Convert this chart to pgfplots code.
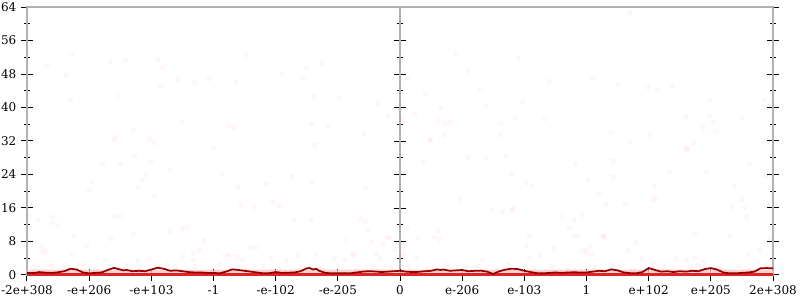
\documentclass[border=0pt]{standalone}
\usepackage{pgfplots}
\pgfplotsset{compat=1.18}
\usepackage{fontspec}
\setmainfont{DejaVu Serif}
\definecolor{axgray}{RGB}{178,178,178}
\definecolor{darkred}{RGB}{150,0,0}
\definecolor{brightred}{RGB}{222,36,36}
\definecolor{bandpink}{RGB}{249,200,200}
\begin{document}
\begin{tikzpicture}
\pgfplotsset{
  common/.style={
    scale only axis, width=559.5pt, height=201pt, at={(0,0)}, anchor=south west,
    xmin=-6, xmax=6, ymin=0, ymax=64,
    ytick={0,8,...,64}, minor y tick num=1,
    tick align=center, major tick length=9pt, minor tick length=4.5pt,
    tick style={black, line width=0.75pt},
    tick label style={font=\fontsize{9}{10}\selectfont},
  }
}
% centre axis at x = 0
\begin{axis}[common,
  axis x line=none, axis y line=center,
  yticklabels={}, xtick=\empty,
  axis line style={draw=axgray, line width=1.5pt, -},
  every inner y axis line/.append style={-},
]
\end{axis}
% main axis
\begin{axis}[common,
  axis line style={draw=axgray, line width=1.5pt},
  xtick={-6,...,6},
  xticklabels={-2e+308,-e+206,-e+103,-1,-e-102,-e-205,0,e-206,e-103,1,e+102,e+205,2e+308},
  yticklabels={0,8,16,24,32,40,48,56,64},
  xtick pos=left, ytick pos=both, yticklabel pos=left,
  clip=false,
]
\coordinate (bl) at (rel axis cs:0,0);
\coordinate (tr) at (rel axis cs:1,1);
% scatter samples
\addplot[only marks, mark=*, mark size=1.6pt,
  mark options={draw=red, fill=red, draw opacity=0.05, fill opacity=0.025}]
coordinates {
(-5.68,50) (-5.28,52.6) (-5.37,47.7) (-5.3,41.9) (-4.66,51) (-4.42,51.2) (-4.53,42.8)
(-3.89,51.5) (-3.82,49.6) (-3.85,45.1) (-3.57,46.7) (-3.3,45.9) (-3.51,36.5) (-4.58,32.9)
(-4.6,32.3) (-4.29,34.5) (-4.03,32.5) (-3.95,31.5)
(-2.47,52.6) (-3.07,46.9) (-2.64,46) (-1.9,48) (-1.5,49.5) (-1.56,46.9) (-1.39,42.5)
(-2.75,35.6) (-2.67,35.2) (-1.42,36) (-3.0,30.4) (-1.37,31.1)
(0.9,53) (1.1,48.8) (1.29,44.4) (1.39,40.5) (0.41,43.2) (0.65,40) (0.62,37.1) (0.73,36.3)
(0.81,36.4) (0.72,33.4) (0.48,32.3) (0.24,38.3) (0.04,37.3) (-0.19,38.1) (-0.35,40.9)
(-0.58,33.8) (-0.98,42.3) (-1.26,50.6) (0.12,46.9) (-1.16,35.4)
(1.9,51.7) (2.4,46.3) (3.1,47) (3.5,45.4) (1.98,41.2) (1.85,37.6) (2.33,37.3) (1.62,36.2)
(1.62,33.5) (3.4,33.9)
(3.7,62.5) (3.98,44.9) (4.13,44.3) (4.38,45.2) (4.98,41.6) (5.87,41.8) (5.91,47.4)
(5.96,40.9) (4.6,37.7) (4.97,37.9) (5.05,36.5) (5.5,37.4) (4.87,35.3) (5.09,34.4)
(4.02,33.5) (3.7,31.7) (4.72,31.5) (4.61,30.1)
(-4.78,26.4) (-4.5,26.5) (-4.27,28.4) (-4.01,27.1) (-4.95,22.2) (-5.0,20.3) (-4.21,21)
(-4.15,22.7) (-4.09,23.8) (-3.94,18.8) (-3.7,25.1) (-2.86,24.1) (-2.6,21) (-2.56,16.7)
(-2.34,16.2) (-2.15,21.8) (-2.04,17.5) (-1.95,16.5) (-1.73,23.5) (-1.42,22.1) (-1.71,13.2)
(-1.43,13.2) (-0.56,20.7) (-0.64,13.3) (-0.56,12.8) (-0.51,10.6) (-0.27,7.4) (-0.2,8.9)
(-0.16,9) (-0.08,28.9) (-0.88,8.4) (-0.75,4.7) (-0.32,3.9) (0,4.2) (-5.96,14) (-5.82,13)
(-5.58,13.8) (-5.59,12.4) (-5.5,11.7) (-5.24,9.4) (-5.04,7) (-5.76,6.6) (-5.69,5.7)
(-5.75,5.4) (-5.27,4.7) (-4.58,14) (-4.5,14.1) (-4.65,8.7) (-4.74,3.5) (-4.29,9.8)
(-4.21,3.3) (-4.03,3.9) (-3.75,2.7) (-3.7,10.3) (-3.51,10.9) (-3.43,11.4) (-3.16,8.2)
(-3.22,6) (-3.32,5.2) (-3.5,4.4) (-3.32,3.5) (-2.81,4.7) (-2.75,4.7) (-2.62,4.4)
(-2.53,3.8) (-2.41,6.5) (-2.31,6.6) (-2.07,3.9) (-1.83,3.3) (-1.64,4.6) (-1.34,4.7)
(-1.06,3.9) (-0.88,3.6) (-0.76,4.9) (-0.46,7.8) (-0.38,5) (-0.08,6.1) (0.05,6.5) (0.11,11.3)
(0.49,32.1) (4.61,30) (0.38,26.8) (1.09,28.1) (1.39,27.9) (1.7,28.4) (1.8,24.2) (2.83,26.7)
(3.43,27.3) (3.43,23.5) (4.33,24.5) (4.94,24.7) (5.62,26.4) (5.88,23.6) (2.03,22) (2.13,21.2)
(0.97,18.1) (1.48,15.6) (1.65,15.2) (1.8,15.4) (1.83,15.9) (3.02,22.6) (3.2,19.4) (3.31,16.8)
(3.62,16.8) (4.09,21.2) (4.1,18.4) (4.07,17.9) (5.38,21.1) (5.5,18) (5.33,16.2) (5.55,16.2)
(5.58,14) (2.6,14) (2.8,13) (2.92,14.3) (2.72,11.3) (2.8,9.4) (2.86,9.4) (3.26,9.2) (3.28,9)
(0.29,8.8) (0.56,8.9) (0.62,10.4) (0.64,8.5) (2.08,9.2) (2.03,7) (4.74,9.8) (5.31,9.2)
(5.95,8.9) (3.8,7.7) (3.67,5.8) (2.48,6.3) (2.92,5.8) (2.99,6) (3.06,6.8) (3.0,5.1) (3.08,4.7)
(2.25,4.7) (2.08,3.9) (1.33,3.5) (0.26,3.9) (0.06,4.9) (5.61,4.8) (5.79,5.8) (4.44,3.9)
(4.61,3.5) (4.74,4.1) (3.89,3.9) (4.07,2.7) (4.88,3.1) (5.76,3.1) (3.43,2.3)
(-5.9,1.8) (-5.6,2.2) (-5.4,1.5) (-5.1,2.6) (-4.9,1.2) (-4.4,2.1) (-4.2,1.6) (-3.9,2.4)
(-3.6,1.4) (-3.3,2.0) (-3.0,1.1) (-2.9,2.5) (-2.5,1.7) (-2.2,2.2) (-1.95,1.3) (-1.6,2.0)
(-1.25,1.5) (-1.0,2.3) (-0.7,1.2) (-0.45,2.0) (-0.15,1.6) (0.15,2.1) (0.45,1.4) (0.75,2.4)
(1.05,1.8) (1.25,2.2) (1.55,1.3) (1.75,2.5) (2.15,1.6) (2.45,2.1) (2.7,1.2) (3.15,1.9)
(3.55,2.4) (3.75,1.5) (4.25,2.0) (4.45,1.2) (4.8,2.3) (5.15,1.6) (5.45,2.1) (5.65,1.3) (5.9,2.2)
};
% pale band of low samples
\addplot[draw=none, fill=bandpink, fill opacity=0.8]
coordinates {(-6,1.25) (-4.5,1.3) (-3,1.2) (-1.5,1.3) (0,1.25) (1.5,1.2) (3,1.3) (4.5,1.25) (6,1.3)} \closedcycle;
% bottom red line
\addplot[brightred, line width=2pt] coordinates {(-6,0.15) (6,0.15)};
% running average
\addplot[darkred, line width=1.3pt] coordinates {
(-6.0,0.5) (-5.9,0.45) (-5.8,0.7) (-5.7,0.55) (-5.6,0.5) (-5.5,0.65) (-5.4,0.9) (-5.3,1.5)
(-5.2,1.3) (-5.1,0.6) (-5.0,0.4) (-4.9,0.5) (-4.8,0.6) (-4.7,1.2) (-4.6,1.7) (-4.5,1.3)
(-4.45,1.1) (-4.4,1.2) (-4.3,0.9) (-4.2,1.0) (-4.1,0.9) (-4.0,1.3) (-3.9,1.74) (-3.8,1.5)
(-3.7,1.0) (-3.6,1.1) (-3.5,0.9) (-3.4,0.7) (-3.3,0.6) (-3.2,0.6) (-3.1,0.5) (-3.0,0.5)
(-2.9,0.4) (-2.8,0.8) (-2.7,1.35) (-2.6,1.2) (-2.5,1.0) (-2.4,0.8) (-2.3,0.6) (-2.2,0.4)
(-2.1,0.45) (-2.0,0.7) (-1.9,0.5) (-1.8,0.55) (-1.7,0.6) (-1.6,0.9) (-1.5,1.6) (-1.45,1.66)
(-1.4,1.3) (-1.35,1.5) (-1.3,1.0) (-1.2,0.5) (-1.1,0.4) (-1.0,0.4) (-0.9,0.45) (-0.8,0.4)
(-0.7,0.6) (-0.6,0.8) (-0.5,0.9) (-0.4,0.85) (-0.3,0.7) (-0.2,0.8) (-0.1,0.9) (0.0,1.0)
(0.1,0.8) (0.2,0.7) (0.3,0.75) (0.4,0.9) (0.5,1.0) (0.6,1.35) (0.65,1.2) (0.7,1.3) (0.8,1.0)
(0.9,1.1) (1.0,1.2) (1.1,0.9) (1.2,1.0) (1.3,1.05) (1.4,0.8) (1.5,0.25) (1.6,0.9) (1.7,1.3)
(1.8,1.5) (1.9,1.4) (2.0,1.0) (2.1,0.7) (2.2,0.45) (2.3,0.4) (2.4,0.5) (2.5,0.6) (2.6,0.5)
(2.7,0.6) (2.8,0.65) (2.9,0.6) (3.0,0.6) (3.1,0.8) (3.2,1.0) (3.3,0.9) (3.4,1.35) (3.5,1.1)
(3.6,0.6) (3.7,0.45) (3.8,0.4) (3.9,0.7) (4.0,1.66) (4.1,1.2) (4.2,0.8) (4.3,0.9) (4.4,0.7)
(4.5,0.9) (4.6,0.8) (4.7,1.0) (4.8,0.9) (4.9,1.4) (5.0,1.66) (5.1,1.3) (5.2,0.6) (5.3,0.4)
(5.4,0.4) (5.5,0.5) (5.6,0.6) (5.7,0.8) (5.8,1.6) (5.9,1.65) (6.0,1.6)
};
\end{axis}
\pgfresetboundingbox
\path ([xshift=-20.25pt,yshift=-18.75pt]bl) rectangle ([xshift=20.25pt,yshift=5.25pt]tr);
\end{tikzpicture}
\end{document}
